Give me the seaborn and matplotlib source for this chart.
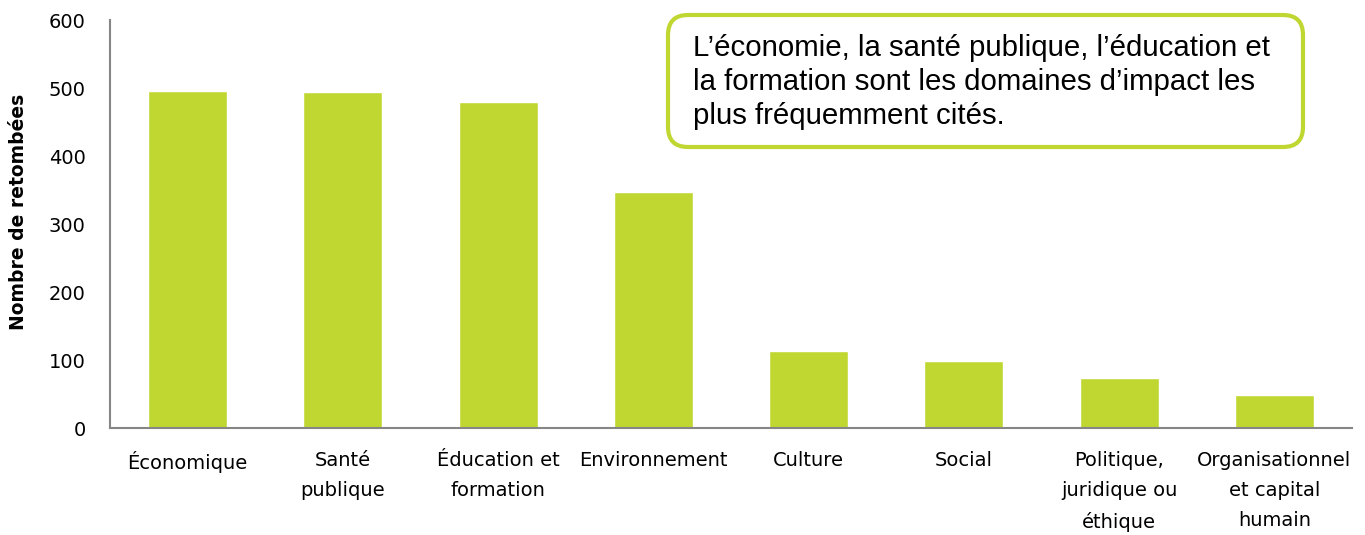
import matplotlib
matplotlib.use("Agg")
import matplotlib.pyplot as plt
import seaborn as sns
import pandas as pd
import numpy as np
from matplotlib.patches import FancyBboxPatch

categories = ["Économique", "Santé\npublique", "Éducation et\nformation", "Environnement",
              "Culture", "Social", "Politique,\njuridique ou\néthique",
              "Organisationnel\net capital\nhumain"]
values = [495, 494, 479, 347, 113, 99, 74, 48]
yticks = [0, 100, 200, 300, 400, 500, 600]
note = "L’économie, la santé publique, l’éducation et\nla formation sont les domaines d’impact les\nplus fréquemment cités."

GREEN = "#C0D732"
GRAY = "#868686"
narrow = ["Liberation Sans Narrow", "DejaVu Sans"]

sns.set_style("white")
plt.rcParams["font.family"] = narrow

df = pd.DataFrame({"cat": categories, "val": values})

fig = plt.figure(figsize=(13.65, 5.35), dpi=100)
ax = fig.add_axes([110/1365, 1-428/535, (1352-110)/1365, (428-20)/535])
sns.barplot(data=df, x="cat", y="val", color=GREEN, saturation=1, width=0.51, ax=ax)

ax.set_ylim(0, 600)
ax.set_xlim(-0.5, len(categories)-0.5)
ax.set_yticks(yticks)
ax.set_yticklabels([str(t) for t in yticks], fontsize=14, family=narrow, color="black")
ax.set_xticks(range(len(categories)))
ax.set_xticklabels(categories, fontsize=14, family=narrow, linespacing=1.75, color="black")
ax.tick_params(axis="x", which="major", length=0, pad=16.5)
ax.set_xticks(np.arange(-0.5, len(categories), 1), minor=True)
ax.tick_params(axis="x", which="minor", length=7, width=1.2, color=GRAY, direction="out")
ax.tick_params(axis="y", length=6, width=1.2, color=GRAY, direction="out", pad=11.5)
for s in ["top", "right"]:
    ax.spines[s].set_visible(False)
for s in ["left", "bottom"]:
    ax.spines[s].set_color(GRAY)
    ax.spines[s].set_linewidth(1.5)
ax.set_xlabel("")
ax.set_ylabel("Nombre de retombées", fontsize=13.5, fontweight="bold",
              family=["DejaVu Sans"], labelpad=15, color="black")
ax.yaxis.label.set_y(0.529)

box = FancyBboxPatch((668/1365, 1-147/535), (1303-668)/1365, (147-15)/535,
                     boxstyle="round,pad=0,rounding_size=0.0147", transform=fig.transFigure,
                     facecolor="white", edgecolor=GREEN, linewidth=3, mutation_aspect=2.55)
fig.patches.append(box)
fig.text(693/1365, 1-34/535, note, fontsize=21.2, family=["Liberation Sans", "DejaVu Sans"],
         va="top", ha="left", linespacing=1.265, color="black")

fig.savefig("out.png", dpi=100)
